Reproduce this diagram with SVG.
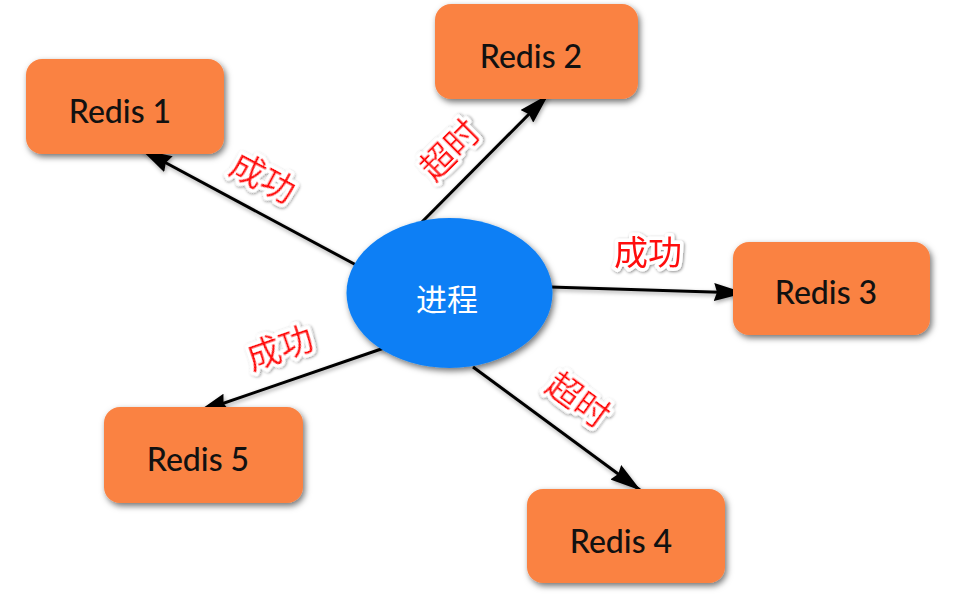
<svg xmlns="http://www.w3.org/2000/svg" width="965" height="598" viewBox="0 0 965 598">
<defs>
<filter id="sh" x="-20%" y="-20%" width="140%" height="150%">
<feDropShadow dx="2" dy="3" stdDeviation="3" flood-color="#000" flood-opacity="0.55"/>
</filter>
<filter id="lsh" x="-20%" y="-20%" width="140%" height="140%">
<feDropShadow dx="1" dy="2" stdDeviation="2" flood-color="#000" flood-opacity="0.35"/>
</filter>
<filter id="glow" x="-30%" y="-30%" width="160%" height="160%">
<feDropShadow dx="1" dy="1" stdDeviation="1.5" flood-color="#000" flood-opacity="0.45"/>
</filter>
<marker id="ah" markerWidth="31" markerHeight="18" refX="30" refY="9" orient="auto" markerUnits="userSpaceOnUse">
<path d="M0,0 L31,9 L0,18 L3,9 Z" fill="#000"/>
</marker>
<style>
.box{fill:#FA8242;filter:url(#sh)}
.lbl{font-family:Lato,"Liberation Sans",sans-serif;font-size:32px;font-weight:500;fill:#111;text-anchor:middle}
.edge{stroke:#000;stroke-width:3;fill:none;marker-end:url(#ah)}
.tag{font-family:"Noto Sans CJK SC","Noto Sans",sans-serif;font-size:34px;fill:#FF1010;text-anchor:middle;stroke:#fff;stroke-width:7;stroke-linejoin:round;paint-order:stroke;filter:url(#glow)}
</style>
</defs>
<rect width="965" height="598" fill="#fff"/>
<g id="connectors" filter="url(#lsh)">
<line class="edge" x1="358" y1="266" x2="142" y2="150"/>
<line class="edge" x1="415" y1="229" x2="548" y2="95"/>
<line class="edge" x1="550" y1="287" x2="744" y2="293"/>
<line class="edge" x1="473" y1="367" x2="640" y2="490"/>
<line class="edge" x1="387" y1="347" x2="198" y2="412"/>
</g>
<g id="center">
<ellipse cx="449.5" cy="293" rx="103" ry="75" fill="#0A7FF5" filter="url(#sh)"/>
<text x="447" y="311" font-family="'Noto Sans CJK SC','Noto Sans',sans-serif" font-size="31" fill="#fff" text-anchor="middle">进程</text>
</g>
<g id="redis1"><rect class="box" x="26" y="59" width="198" height="95" rx="16"/><text class="lbl" x="120" y="123">Redis 1</text></g>
<g id="redis2"><rect class="box" x="435" y="4" width="203" height="95" rx="16"/><text class="lbl" x="531" y="68">Redis 2</text></g>
<g id="redis3"><rect class="box" x="733" y="242" width="197" height="93" rx="16"/><text class="lbl" x="826" y="304">Redis 3</text></g>
<g id="redis4"><rect class="box" x="527" y="489" width="198" height="94" rx="16"/><text class="lbl" x="621" y="553">Redis 4</text></g>
<g id="redis5"><rect class="box" x="104" y="407" width="199" height="96" rx="16"/><text class="lbl" x="198" y="471">Redis 5</text></g>
<g id="labels">
<text class="tag" transform="translate(263,178) rotate(28)" y="12">成功</text>
<text class="tag" transform="translate(450,150) rotate(-45)" y="12">超时</text>
<text class="tag" transform="translate(648,253)" y="12">成功</text>
<text class="tag" transform="translate(578,400) rotate(36)" y="12">超时</text>
<text class="tag" transform="translate(280,348) rotate(-19)" y="12">成功</text>
</g>
</svg>
